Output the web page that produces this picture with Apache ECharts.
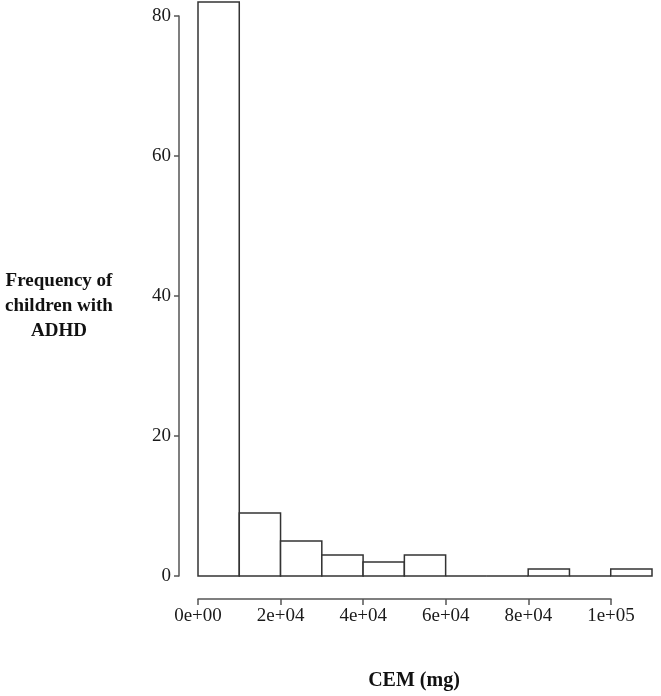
<!DOCTYPE html>
<html>
<head>
<meta charset="utf-8">
<script src="https://cdn.jsdelivr.net/npm/echarts@6/dist/echarts.min.js"></script>
<style>
  html, body { margin: 0; padding: 0; background: #fff; }
  #main { width: 661px; height: 696px; }
</style>
</head>
<body>
<div id="main"></div>
<script>
// histogram bins (width 1e4) and counts
var binStarts = [0, 10000, 20000, 30000, 40000, 50000, 60000, 70000, 80000, 90000, 100000];
var binWidth = 10000;
var counts = [82, 9, 5, 3, 2, 3, 0, 0, 1, 0, 1];
var xTicks = [0, 20000, 40000, 60000, 80000, 100000];
var xTickLabels = ['0e+00', '2e+04', '4e+04', '6e+04', '8e+04', '1e+05'];
var yTicks = [0, 20, 40, 60, 80];

var serif = '"Liberation Serif", "DejaVu Serif", serif';
var lineCol = '#555';

var chart = echarts.init(document.getElementById('main'));

var binData = [];
for (var i = 0; i < binStarts.length; i++) {
  binData.push([binStarts[i], binStarts[i] + binWidth, counts[i]]);
}

chart.setOption({
  animation: false,
  backgroundColor: '#fff',
  grid: [
    // plot area
    { left: 198, top: 2, width: 454, height: 574 },
    // left axis (offset like R)
    { left: 179, top: 16, width: 1, height: 560 },
    // bottom axis
    { left: 198, top: 598, width: 413, height: 1 }
  ],
  xAxis: [
    { gridIndex: 0, type: 'value', min: 0, max: 110000, show: false },
    { gridIndex: 1, type: 'value', min: 0, max: 1, show: false },
    {
      gridIndex: 2, type: 'value', min: 0, max: 100000, interval: 20000,
      position: 'bottom',
      axisLine: { show: true, lineStyle: { color: lineCol, width: 1.5 } },
      axisTick: { show: true, length: 6, lineStyle: { color: lineCol, width: 1.5 } },
      axisLabel: {
        margin: 8, color: '#1a1a1a', fontFamily: serif, fontSize: 19,
        formatter: function (v) {
          var k = xTicks.indexOf(v);
          return k >= 0 ? xTickLabels[k] : '';
        }
      },
      splitLine: { show: false }
    }
  ],
  yAxis: [
    { gridIndex: 0, type: 'value', min: 0, max: 82, show: false },
    {
      gridIndex: 1, type: 'value', min: 0, max: 80, interval: 20,
      position: 'left',
      axisLine: { show: true, lineStyle: { color: lineCol, width: 1.5 } },
      axisTick: { show: true, length: 5, lineStyle: { color: lineCol, width: 1.5 } },
      axisLabel: { margin: 8, color: '#1a1a1a', fontFamily: serif, fontSize: 19 },
      splitLine: { show: false }
    },
    { gridIndex: 2, type: 'value', min: 0, max: 1, show: false }
  ],
  series: [{
    type: 'custom',
    xAxisIndex: 0,
    yAxisIndex: 0,
    data: binData,
    renderItem: function (params, api) {
      var p0 = api.coord([api.value(0), 0]);
      var p1 = api.coord([api.value(1), api.value(2)]);
      return {
        type: 'rect',
        shape: { x: p0[0], y: p1[1], width: p1[0] - p0[0], height: p0[1] - p1[1] },
        style: { fill: '#fff', stroke: '#333', lineWidth: 1.5 }
      };
    }
  }],
  graphic: [
    {
      type: 'text', x: 59, y: 306,
      style: {
        text: 'Frequency of\nchildren with\nADHD',
        align: 'center', verticalAlign: 'middle', lineHeight: 25,
        font: 'bold 19px ' + serif, fill: '#111'
      }
    },
    {
      type: 'text', x: 414, y: 681,
      style: {
        text: 'CEM (mg)', align: 'center', verticalAlign: 'middle',
        font: 'bold 20px ' + serif, fill: '#111'
      }
    }
  ]
});
</script>
</body>
</html>
